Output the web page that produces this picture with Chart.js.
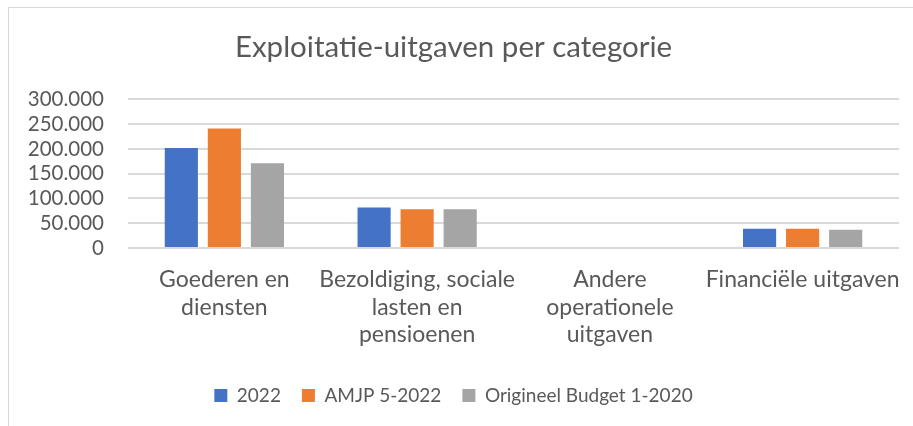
<!DOCTYPE html>
<html>
<head>
<meta charset="utf-8">
<script src="https://cdn.jsdelivr.net/npm/chart.js@4/dist/chart.umd.min.js"></script>
<style>
  html, body { margin: 0; padding: 0; background: #fff; overflow: hidden; }
  #frame {
    position: absolute; left: 8px; top: 7px; width: 940px; height: 440px;
    border: 1px solid #d9d9d9; box-sizing: border-box;
  }
  #myChart { position: absolute; left: 0; top: 0; }
</style>
</head>
<body>
<div id="frame"></div>
<canvas id="myChart" width="913" height="426"></canvas>
<script>
var categories = [
  ['Goederen en', 'diensten'],
  ['Bezoldiging, sociale', 'lasten en', 'pensioenen'],
  ['Andere', 'operationele', 'uitgaven'],
  ['Financiële uitgaven']
]
var values2022 = [202000, 82000, 0, 39000]
var valuesAmjp = [241000, 78000, 0, 39000]
var valuesOrigineel = [171000, 78000, 2000, 37000]
var seriesNames = ['2022', 'AMJP 5-2022', 'Origineel Budget 1-2020']
var yTicks = [0, 50000, 100000, 150000, 200000, 250000, 300000]

var textColor = '#595959'
var fontFamily = 'Lato, "Open Sans", sans-serif'

function formatNumber(v) {
  return String(v).replace(/\B(?=(\d{3})+(?!\d))/g, '.')
}

var chartData = {
  labels: categories,
  datasets: [{
    label: seriesNames[0],
    data: values2022,
    backgroundColor: '#4472C4'
  }, {
    label: seriesNames[1],
    data: valuesAmjp,
    backgroundColor: '#ED7D31'
  }, {
    label: seriesNames[2],
    data: valuesOrigineel,
    backgroundColor: '#A5A5A5'
  }]
}

var ctx = document.getElementById('myChart')
var myChart = new Chart(ctx, {
  type: 'bar',
  data: chartData,
  options: {
    responsive: false,
    animation: false,
    datasets: {
      bar: { categoryPercentage: 0.67, barPercentage: 0.77 }
    },
    layout: { padding: { left: 8, right: 14, top: 0, bottom: 11 } },
    plugins: {
      title: {
        display: true,
        text: 'Exploitatie-uitgaven per categorie',
        color: textColor,
        font: { family: fontFamily, size: 29.5, weight: 'normal' },
        padding: { top: 30, bottom: 34 }
      },
      legend: {
        position: 'bottom',
        labels: {
          color: textColor,
          font: { family: fontFamily, size: 19 },
          boxWidth: 13,
          boxHeight: 13,
          padding: 21
        }
      },
      tooltip: { enabled: false }
    },
    scales: {
      x: {
        grid: { display: false },
        border: { display: false },
        ticks: {
          color: textColor,
          font: { family: fontFamily, size: 23, lineHeight: 1.2 },
          maxRotation: 0,
          autoSkip: false,
          padding: 10
        },
        afterFit: function(scale) { scale.height = 117 }
      },
      y: {
        min: 0,
        max: 300000,
        afterBuildTicks: function(scale) {
          scale.ticks = yTicks.map(function(v) { return { value: v } })
        },
        grid: { color: '#d9d9d9', lineWidth: 2, drawTicks: false },
        border: { display: false },
        ticks: {
          color: textColor,
          font: { family: fontFamily, size: 20.5 },
          autoSkip: false,
          padding: 24,
          callback: function(v) { return formatNumber(v) }
        },
        afterFit: function(scale) { scale.width = 120 }
      }
    }
  }
})
</script>
</body>
</html>
